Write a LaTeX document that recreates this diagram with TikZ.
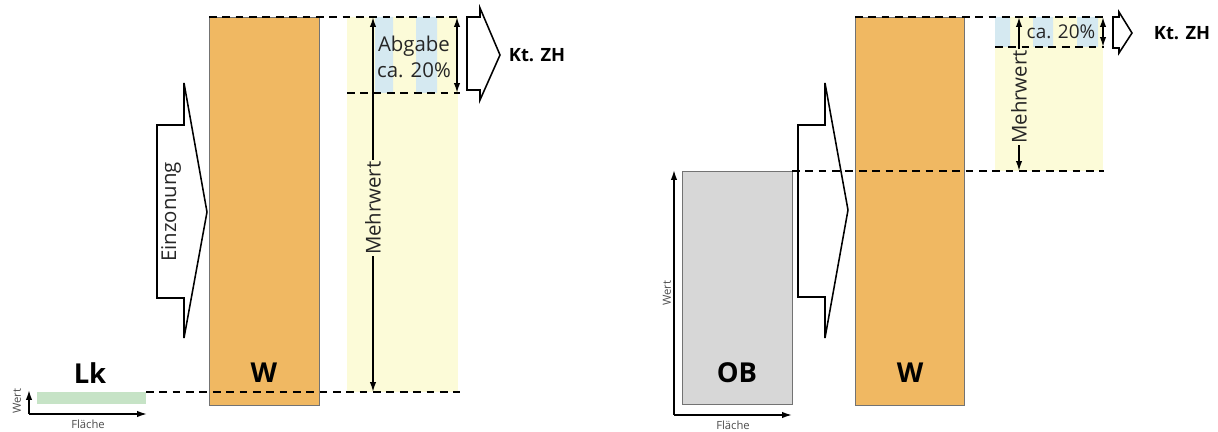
\documentclass[tikz,border=0pt]{standalone}
\usepackage{fontspec}
\setmainfont{Open Sans}
\usetikzlibrary{arrows.meta}
\definecolor{wertorange}{HTML}{F0B862}
\definecolor{mehrgelb}{HTML}{FCFBD8}
\definecolor{abgabeblau}{HTML}{D5E9F1}
\definecolor{lkgruen}{HTML}{C6E3C6}
\definecolor{obgrau}{HTML}{D7D7D7}
\tikzset{
  bar/.style={draw=black!55, line width=0.6pt},
  dashline/.style={line width=1.1pt, dash pattern=on 5.5pt off 4pt},
  dimarrow/.style={line width=1.2pt, {Latex[length=7pt,width=4.5pt]}-{Latex[length=7pt,width=4.5pt]}},
  axis/.style={line width=1.1pt, -{Latex[length=7pt,width=4.5pt]}},
  blockarrow/.style={line width=1.1pt, line join=miter},
  barlabel/.style={font=\fontsize{19.5}{21}\selectfont\bfseries},
  dimlabel/.style={font=\fontsize{14.5}{19}\selectfont, text=black!85, fill=mehrgelb, inner sep=1pt},
  axislabel/.style={font=\fontsize{8}{9}\selectfont, text=black!70, inner sep=0pt}
}
\begin{document}
\begin{tikzpicture}[x=0.025cm, y=-0.025cm]
\useasboundingbox (0,0) rectangle (1218,432);

% left panel: Lk -> W
\fill[mehrgelb] (347,17) rectangle (458,392);
\fill[abgabeblau] (375,17) rectangle (393,93)
                  (416,17) rectangle (437,93);
\draw[bar, fill=wertorange] (209,17) rectangle (319,405);
\fill[lkgruen] (37,392) rectangle (146,404);

\draw[blockarrow] (157,125) -- (184,125) -- (184,83) -- (207,212)
        -- (184,338) -- (184,298) -- (157,298) -- cycle;
\node[rotate=90, text=black!85, font=\fontsize{14.5}{16}\selectfont] (einz) at (171,212) {Einzonung};
\draw[blockarrow] (467,17) -- (480,17) -- (480,8) -- (500,55)
        -- (480,100) -- (480,90) -- (467,90) -- cycle;

\coordinate (Ltop1) at (209,17);   \coordinate (Ltop2) at (460,17);
\coordinate (Lmid1) at (347,93);   \coordinate (Lmid2) at (460,93);
\coordinate (Lbot1) at (146,392);  \coordinate (Lbot2) at (460,392);
\draw[dashline] (Ltop1) -- (Ltop2)
                (Lmid1) -- (Lmid2)
                (Lbot1) -- (Lbot2);

\coordinate (LmwTop) at (373,17);  \coordinate (LmwBot) at (373,392);
\draw[dimarrow] (LmwBot) -- node[dimlabel, rotate=90, pos=0.49] (mwL) {Mehrwert} (LmwTop);
\coordinate (LabTop) at (457,17);  \coordinate (LabBot) at (457,93);
\draw[dimarrow] (LabTop) -- (LabBot);
\node[font=\fontsize{14.5}{19}\selectfont, text=black!85, align=center, inner sep=0pt] (abgabe) at (414,57) {Abgabe\\ca. 20\%};
\node[font=\fontsize{13}{15}\selectfont\bfseries] (ktL) at (537,55) {Kt. ZH};

\node[barlabel] (lk) at (90,373) {Lk};
\node[barlabel] (wL) at (264,373) {W};

\coordinate (LO) at (29,414);
\coordinate (LY) at (29,390);
\coordinate (LX) at (147,414);
\draw[axis] (LO) -- (LY);
\draw[axis] (LO) -- (LX);
\node[axislabel, rotate=90] (wertL) at (17,401) {Wert};
\node[axislabel] (flaecheL) at (88,424) {Fläche};

% right panel: OB -> W
\fill[mehrgelb] (995,17) rectangle (1103,171);
\fill[abgabeblau] (995,17) rectangle (1010,47)
                  (1033,17) rectangle (1053,47)
                  (1077,17) rectangle (1098,47);
\draw[bar, fill=obgrau] (682,171) rectangle (792,404);
\draw[bar, fill=wertorange] (855,17) rectangle (964,405);

\draw[blockarrow] (798,125) -- (825,125) -- (825,83) -- (848,210)
        -- (825,338) -- (825,297) -- (798,297) -- cycle;
\draw[blockarrow] (1113,17) -- (1119,17) -- (1119,12) -- (1132,33)
        -- (1119,53) -- (1119,48) -- (1113,48) -- cycle;

\coordinate (Rtop1) at (855,17);   \coordinate (Rtop2) at (1104,17);
\coordinate (Rmid1) at (995,47);   \coordinate (Rmid2) at (1104,47);
\coordinate (Rbot1) at (792,171);  \coordinate (Rbot2) at (1104,171);
\draw[dashline] (Rtop1) -- (Rtop2)
                (Rmid1) -- (Rmid2)
                (Rbot1) -- (Rbot2);

\coordinate (RmwTop) at (1019,17); \coordinate (RmwBot) at (1019,171);
\draw[dimarrow] (RmwBot) -- node[dimlabel, rotate=90, pos=0.48] (mwR) {Mehrwert} (RmwTop);
\coordinate (RabTop) at (1103,17); \coordinate (RabBot) at (1103,47);
\draw[dimarrow] (RabTop) -- (RabBot);
\node[font=\fontsize{13.5}{16}\selectfont, text=black!85, inner sep=0pt] (caR) at (1061,32) {ca. 20\%};
\node[font=\fontsize{13}{15}\selectfont\bfseries] (ktR) at (1182,33) {Kt. ZH};

\node[barlabel] (ob) at (737,373) {OB};
\node[barlabel] (wR) at (910,373) {W};

\coordinate (RO) at (674,415);
\coordinate (RY) at (674,170);
\coordinate (RX) at (792,415);
\draw[axis] (RO) -- (RY);
\draw[axis] (RO) -- (RX);
\node[axislabel, rotate=90] (wertR) at (667,293) {Wert};
\node[axislabel] (flaecheR) at (733,425) {Fläche};
\end{tikzpicture}
\end{document}
